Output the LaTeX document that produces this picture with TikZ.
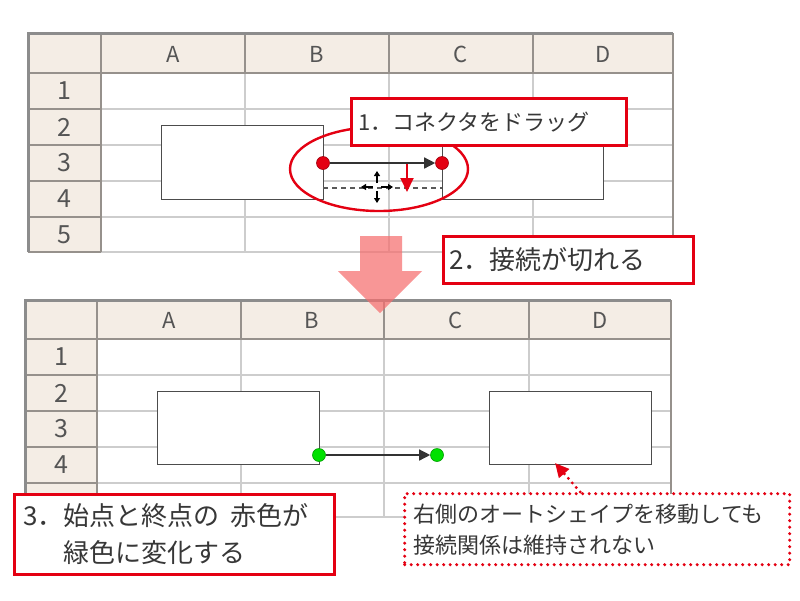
\documentclass[tikz,border=0pt]{standalone}
\usepackage{fontspec}
\setmainfont{Noto Sans CJK JP}
\usetikzlibrary{arrows.meta,positioning}

\definecolor{hdrbg}{RGB}{244,237,229}
\definecolor{gridgray}{RGB}{205,205,205}
\definecolor{hdrgray}{RGB}{150,145,140}
\definecolor{framegray}{RGB}{140,140,140}
\definecolor{txtgray}{RGB}{55,55,55}
\definecolor{callred}{RGB}{228,0,18}
\definecolor{dotgreen}{RGB}{0,225,0}
\definecolor{bigpink}{RGB}{246,110,110}

\tikzset{
  gridline/.style={draw=gridgray, line width=1.2pt},
  hdrline/.style={draw=hdrgray, line width=1.6pt},
  sheetframe/.style={draw=framegray, line width=3pt},
  colhdr/.style={font=\fontsize{22}{22}\selectfont, text=txtgray!85},
  rowhdr/.style={font=\fontsize{25}{25}\selectfont, text=txtgray!85},
  autoshape/.style={draw=black!70, line width=1.4pt, fill=white, anchor=north west,
    inner sep=0pt, minimum width=162pt, minimum height=74pt},
  reddot/.style={circle, fill=callred, draw=callred!70!black, line width=0.6pt,
    inner sep=0pt, minimum size=13pt},
  greendot/.style={reddot, fill=dotgreen, draw=dotgreen!70!black},
  conn/.style={draw=black!80, line width=1.4pt, -{Triangle[length=11pt,width=11pt]}},
  callout/.style={draw=callred, line width=2.8pt, fill=white, anchor=north west,
    align=left, text=txtgray},
  notebox/.style={callout, line width=3.4pt, dash pattern=on 0pt off 6.5pt, line cap=round}
}

\begin{document}
\begin{tikzpicture}[x=1pt,y=-1pt]
  \useasboundingbox (0,0) rectangle (800,600);
  \fill[white] (0,0) rectangle (800,600);

  % upper sheet
  \fill[hdrbg] (28,33) rectangle (673,73);
  \fill[hdrbg] (28,73) rectangle (101,252);
  \foreach \y in {109,145,181,217,252} \draw[gridline] (101,\y) -- (673,\y);
  \foreach \x in {245,389,533} \draw[gridline] (\x,73) -- (\x,252);
  \foreach \y in {109,145,181,217,252} \draw[hdrline] (28,\y) -- (101,\y);
  \foreach \x in {245,389,533} \draw[hdrline] (\x,33) -- (\x,73);
  \draw[hdrline] (28,73) -- (673,73);
  \draw[hdrline] (101,33) -- (101,252);
  \draw[hdrline] (673,33) -- (673,252);
  \draw[sheetframe] (28,252) -- (28,33) -- (673,33);
  \foreach \c/\x in {A/173,B/317,C/461,D/603}
    \node[colhdr] at (\x,54) {\c};
  \foreach \r/\y in {1/91,2/127,3/163,4/199,5/234.5}
    \node[rowhdr] at (64.5,\y) {\r};

  % shapes before the drag
  \node[autoshape] (shapeA1) at (161,125) {};
  \node[autoshape, minimum width=161pt] (shapeB1) at (442,125) {};
  \node[reddot] (startA) at (323,163) {};
  \node[reddot] (endA) at (442,163) {};
  \draw[conn] (startA) -- (endA);

  % ghost of the dragged connector
  \coordinate (ghostL) at (323,188);
  \coordinate (ghostR) at (442,188);
  \draw[black!65, line width=1.2pt, dash pattern=on 5pt off 4pt] (ghostL) -- (ghostR);
  \coordinate (mv) at (377,187);
  \foreach \a in {0,90,180,270}
    \draw[black, line width=1.1pt, -{Triangle[length=5pt,width=6pt]}] (mv) ++(\a:4) -- ++(\a:12);
  \coordinate (dragtop) at (407,164);
  \coordinate (dragend) at (407,192);
  \draw[callred, line width=2pt, -{Triangle[length=14pt,width=13pt]}] (dragtop) -- (dragend);
  \draw[callred, line width=2.4pt] (379,169) ellipse [x radius=89pt, y radius=42pt];

  % lower sheet
  \fill[hdrbg] (25,300) rectangle (671,339);
  \fill[hdrbg] (25,339) rectangle (97,517);
  \foreach \y in {375,411,447,483,517} \draw[gridline] (97,\y) -- (671,\y);
  \foreach \x in {241,384,529} \draw[gridline] (\x,339) -- (\x,517);
  \foreach \y in {375,411,447,483,517} \draw[hdrline] (25,\y) -- (97,\y);
  \foreach \x in {241,384,529} \draw[hdrline] (\x,300) -- (\x,339);
  \draw[hdrline] (25,339) -- (671,339);
  \draw[hdrline] (97,300) -- (97,517);
  \draw[hdrline] (671,300) -- (671,517);
  \draw[sheetframe] (25,517) -- (25,300) -- (671,300);
  \foreach \c/\x in {A/169,B/312,C/456,D/600}
    \node[colhdr] at (\x,320) {\c};
  \foreach \r/\y in {1/357,2/393,3/429,4/465}
    \node[rowhdr] at (61,\y) {\r};

  % shapes after the drag
  \node[autoshape, minimum height=73pt] (shapeA2) at (157,391) {};
  \node[autoshape, minimum height=73pt] (shapeB2) at (489,391) {};
  \node[greendot] (startB) at (319,455) {};
  \node[greendot] (endB) at (437,455) {};
  \draw[conn] (startB) -- (endB);

  % big arrow between the sheets
  \fill[bigpink, opacity=0.72] (360,236) -- (402,236) -- (402,271) -- (422,271)
    -- (380,313) -- (338,271) -- (360,271) -- cycle;

  % callouts
  \node[callout, minimum width=275pt, minimum height=47pt, text width=261pt, inner xsep=7pt,
    font=\fontsize{22}{26}\selectfont] (step1) at (350,97) {1．コネクタをドラッグ};
  \node[callout, minimum width=250pt, minimum height=47pt, text width=238pt, inner xsep=6pt,
    font=\fontsize{26}{30}\selectfont] (step2) at (442,235) {2．接続が切れる};
  \node[callout, minimum width=320pt, minimum height=80pt, text width=302pt, inner xsep=9pt,
    font=\fontsize{26}{37}\selectfont] (step3) at (13,493)
    {3．始点と終点の\hspace{0.4em}赤色が\\\phantom{3．}緑色に変化する};
  \node[notebox, minimum width=385pt, minimum height=71pt, text width=367pt, inner xsep=9pt,
    font=\fontsize{22}{31}\selectfont] (note) at (403,492)
    {右側のオートシェイプを移動しても\\接続関係は維持されない};
  \coordinate (moveTip) at (555,463);
  \draw[callred, line width=3.2pt, dash pattern=on 0pt off 6pt, line cap=round,
    -{Triangle[length=14pt,width=13pt]}] ([xshift=-17pt]note.north) -- (moveTip);
\end{tikzpicture}
\end{document}
